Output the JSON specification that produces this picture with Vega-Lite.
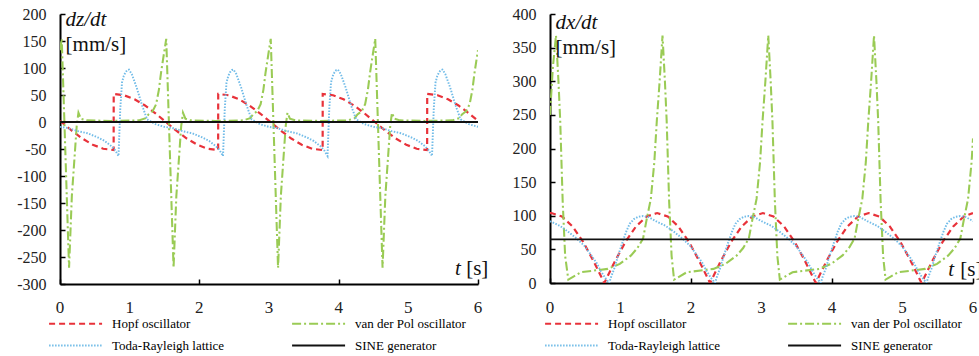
{
"$schema": "https://vega.github.io/schema/vega-lite/v6.json",
"background": "white",
"padding": {"left": 16, "top": 6, "right": 0, "bottom": 0},
"bounds": "flush",
"spacing": 72,
"config": {
  "font": "Times New Roman",
  "view": {"stroke": null},
  "axis": {"grid": false, "title": null, "domainColor": "#000", "domainWidth": 2, "tickColor": "#000", "tickWidth": 1.5, "tickSize": -5, "labelFont": "Times New Roman", "labelFontSize": 16, "labelColor": "#222", "labelOverlap": false, "labelExpr": "'' + datum.value"},
  "axisX": {"labelPadding": 17},
  "axisY": {"labelPadding": 19},
  "legend": {"orient": "none", "legendY": 303, "columns": 2, "direction": "horizontal", "symbolType": "M-1,0H11", "symbolSize": 78, "symbolStrokeWidth": 2, "labelFont": "Times New Roman", "labelFontSize": 13, "labelColor": "#000", "labelOffset": 52, "columnPadding": 62, "rowPadding": 8, "padding": 0, "title": null}
},
"datasets": {
"ticks": [{"v":0},{"v":1},{"v":2},{"v":3},{"v":4},{"v":5},{"v":6}],
"dz": [
{"s":"H","t":0,"y":2.2},{"s":"H","t":0.02,"y":0},{"s":"H","t":0.17,"y":-16.1},{"s":"H","t":0.32,"y":-30.6},{"s":"H","t":0.47,"y":-42.1},{"s":"H","t":0.62,"y":-49.5},{"s":"H","t":0.77,"y":-52},{"s":"H","t":0.771,"y":52},{"s":"H","t":0.92,"y":49.5},{"s":"H","t":1.07,"y":42.1},{"s":"H","t":1.22,"y":30.6},{"s":"H","t":1.37,"y":16.1},{"s":"H","t":1.52,"y":0},{"s":"H","t":1.67,"y":-16.1},{"s":"H","t":1.82,"y":-30.6},{"s":"H","t":1.97,"y":-42.1},{"s":"H","t":2.12,"y":-49.5},{"s":"H","t":2.27,"y":-52},{"s":"H","t":2.271,"y":52},{"s":"H","t":2.42,"y":49.5},{"s":"H","t":2.57,"y":42.1},{"s":"H","t":2.72,"y":30.6},{"s":"H","t":2.87,"y":16.1},{"s":"H","t":3.02,"y":0},{"s":"H","t":3.17,"y":-16.1},{"s":"H","t":3.32,"y":-30.6},{"s":"H","t":3.47,"y":-42.1},{"s":"H","t":3.62,"y":-49.5},{"s":"H","t":3.77,"y":-52},{"s":"H","t":3.771,"y":52},{"s":"H","t":3.92,"y":49.5},{"s":"H","t":4.07,"y":42.1},{"s":"H","t":4.22,"y":30.6},{"s":"H","t":4.37,"y":16.1},{"s":"H","t":4.52,"y":0},{"s":"H","t":4.67,"y":-16.1},{"s":"H","t":4.82,"y":-30.6},{"s":"H","t":4.97,"y":-42.1},{"s":"H","t":5.12,"y":-49.5},{"s":"H","t":5.27,"y":-52},{"s":"H","t":5.271,"y":52},{"s":"H","t":5.42,"y":49.5},{"s":"H","t":5.57,"y":42.1},{"s":"H","t":5.72,"y":30.6},{"s":"H","t":5.87,"y":16.1},{"s":"H","t":6,"y":2.2},
{"s":"V","t":0,"y":133},{"s":"V","t":0.025,"y":154},{"s":"V","t":0.06,"y":13},{"s":"V","t":0.095,"y":-129},
{"s":"V","t":0.13,"y":-270},{"s":"V","t":0.17,"y":-137},{"s":"V","t":0.21,"y":-63},{"s":"V","t":0.24,"y":-7},{"s":"V","t":0.265,"y":17},{"s":"V","t":0.3,"y":6},{"s":"V","t":0.38,"y":3},{"s":"V","t":0.73,"y":2},{"s":"V","t":1.13,"y":3},{"s":"V","t":1.23,"y":7},{"s":"V","t":1.27,"y":14},{"s":"V","t":1.33,"y":20},{"s":"V","t":1.38,"y":33},{"s":"V","t":1.42,"y":60},{"s":"V","t":1.45,"y":91},{"s":"V","t":1.49,"y":125},{"s":"V","t":1.525,"y":154},{"s":"V","t":1.56,"y":13},{"s":"V","t":1.595,"y":-129},
{"s":"V","t":1.63,"y":-270},{"s":"V","t":1.67,"y":-137},{"s":"V","t":1.71,"y":-63},{"s":"V","t":1.74,"y":-7},{"s":"V","t":1.765,"y":17},{"s":"V","t":1.8,"y":6},{"s":"V","t":1.88,"y":3},{"s":"V","t":2.23,"y":2},{"s":"V","t":2.63,"y":3},{"s":"V","t":2.73,"y":7},{"s":"V","t":2.77,"y":14},{"s":"V","t":2.83,"y":20},{"s":"V","t":2.88,"y":33},{"s":"V","t":2.92,"y":60},{"s":"V","t":2.95,"y":91},{"s":"V","t":2.99,"y":125},{"s":"V","t":3.025,"y":154},{"s":"V","t":3.06,"y":13},{"s":"V","t":3.095,"y":-129},
{"s":"V","t":3.13,"y":-270},{"s":"V","t":3.17,"y":-137},{"s":"V","t":3.21,"y":-63},{"s":"V","t":3.24,"y":-7},{"s":"V","t":3.265,"y":17},{"s":"V","t":3.3,"y":6},{"s":"V","t":3.38,"y":3},{"s":"V","t":3.73,"y":2},{"s":"V","t":4.13,"y":3},{"s":"V","t":4.23,"y":7},{"s":"V","t":4.27,"y":14},{"s":"V","t":4.33,"y":20},{"s":"V","t":4.38,"y":33},{"s":"V","t":4.42,"y":60},{"s":"V","t":4.45,"y":91},{"s":"V","t":4.49,"y":125},{"s":"V","t":4.525,"y":154},{"s":"V","t":4.56,"y":13},{"s":"V","t":4.595,"y":-129},
{"s":"V","t":4.63,"y":-270},{"s":"V","t":4.67,"y":-137},{"s":"V","t":4.71,"y":-63},{"s":"V","t":4.74,"y":-7},{"s":"V","t":4.765,"y":17},{"s":"V","t":4.8,"y":6},{"s":"V","t":4.88,"y":3},{"s":"V","t":5.23,"y":2},{"s":"V","t":5.63,"y":3},{"s":"V","t":5.73,"y":7},{"s":"V","t":5.77,"y":14},{"s":"V","t":5.83,"y":20},{"s":"V","t":5.88,"y":33},{"s":"V","t":5.92,"y":60},{"s":"V","t":5.95,"y":91},{"s":"V","t":5.99,"y":125},{"s":"V","t":6,"y":133},
{"s":"T","t":0,"y":-9},{"s":"T","t":0.11,"y":-11},{"s":"T","t":0.26,"y":-17},{"s":"T","t":0.4,"y":-21},{"s":"T","t":0.55,"y":-29},{"s":"T","t":0.64,"y":-35},{"s":"T","t":0.74,"y":-45},{"s":"T","t":0.79,"y":-52},
{"s":"T","t":0.84,"y":-63},{"s":"T","t":0.865,"y":24},{"s":"T","t":0.89,"y":73},{"s":"T","t":0.915,"y":85},{"s":"T","t":0.94,"y":92},{"s":"T","t":0.965,"y":96},{"s":"T","t":0.99,"y":97},{"s":"T","t":1.03,"y":89},{"s":"T","t":1.1,"y":64},{"s":"T","t":1.18,"y":30},{"s":"T","t":1.25,"y":5},{"s":"T","t":1.37,"y":-4},{"s":"T","t":1.5,"y":-9},{"s":"T","t":1.61,"y":-11},{"s":"T","t":1.76,"y":-17},{"s":"T","t":1.9,"y":-21},{"s":"T","t":2.05,"y":-29},{"s":"T","t":2.14,"y":-35},{"s":"T","t":2.24,"y":-45},{"s":"T","t":2.29,"y":-52},
{"s":"T","t":2.34,"y":-63},{"s":"T","t":2.365,"y":24},{"s":"T","t":2.39,"y":73},{"s":"T","t":2.415,"y":85},{"s":"T","t":2.44,"y":92},{"s":"T","t":2.465,"y":96},{"s":"T","t":2.49,"y":97},{"s":"T","t":2.53,"y":89},{"s":"T","t":2.6,"y":64},{"s":"T","t":2.68,"y":30},{"s":"T","t":2.75,"y":5},{"s":"T","t":2.87,"y":-4},{"s":"T","t":3,"y":-9},{"s":"T","t":3.11,"y":-11},{"s":"T","t":3.26,"y":-17},{"s":"T","t":3.4,"y":-21},{"s":"T","t":3.55,"y":-29},{"s":"T","t":3.64,"y":-35},{"s":"T","t":3.74,"y":-45},{"s":"T","t":3.79,"y":-52},
{"s":"T","t":3.84,"y":-63},{"s":"T","t":3.865,"y":24},{"s":"T","t":3.89,"y":73},{"s":"T","t":3.915,"y":85},{"s":"T","t":3.94,"y":92},{"s":"T","t":3.965,"y":96},{"s":"T","t":3.99,"y":97},{"s":"T","t":4.03,"y":89},{"s":"T","t":4.1,"y":64},{"s":"T","t":4.18,"y":30},{"s":"T","t":4.25,"y":5},{"s":"T","t":4.37,"y":-4},{"s":"T","t":4.5,"y":-9},{"s":"T","t":4.61,"y":-11},{"s":"T","t":4.76,"y":-17},{"s":"T","t":4.9,"y":-21},{"s":"T","t":5.05,"y":-29},{"s":"T","t":5.14,"y":-35},{"s":"T","t":5.24,"y":-45},{"s":"T","t":5.29,"y":-52},
{"s":"T","t":5.34,"y":-63},{"s":"T","t":5.365,"y":24},{"s":"T","t":5.39,"y":73},{"s":"T","t":5.415,"y":85},{"s":"T","t":5.44,"y":92},{"s":"T","t":5.465,"y":96},{"s":"T","t":5.49,"y":97},{"s":"T","t":5.53,"y":89},{"s":"T","t":5.6,"y":64},{"s":"T","t":5.68,"y":30},{"s":"T","t":5.75,"y":5},{"s":"T","t":5.87,"y":-4},{"s":"T","t":6,"y":-9},
{"s":"S","t":0,"y":0},{"s":"S","t":6,"y":0}
],
"dx": [
{"s":"H","t":0,"y":103.9},{"s":"H","t":0.02,"y":104},{"s":"H","t":0.17,"y":98.9},{"s":"H","t":0.32,"y":84.1},{"s":"H","t":0.47,"y":61.2},{"s":"H","t":0.62,"y":32.1},{"s":"H","t":0.77,"y":0},{"s":"H","t":0.92,"y":32.1},{"s":"H","t":1.07,"y":61.2},{"s":"H","t":1.22,"y":84.1},{"s":"H","t":1.37,"y":98.9},{"s":"H","t":1.52,"y":104},{"s":"H","t":1.67,"y":98.9},{"s":"H","t":1.82,"y":84.1},{"s":"H","t":1.97,"y":61.2},{"s":"H","t":2.12,"y":32.1},{"s":"H","t":2.27,"y":0},{"s":"H","t":2.42,"y":32.1},{"s":"H","t":2.57,"y":61.2},{"s":"H","t":2.72,"y":84.1},{"s":"H","t":2.87,"y":98.9},{"s":"H","t":3.02,"y":104},{"s":"H","t":3.17,"y":98.9},{"s":"H","t":3.32,"y":84.1},{"s":"H","t":3.47,"y":61.2},{"s":"H","t":3.62,"y":32.1},{"s":"H","t":3.77,"y":0},{"s":"H","t":3.92,"y":32.1},{"s":"H","t":4.07,"y":61.2},{"s":"H","t":4.22,"y":84.1},{"s":"H","t":4.37,"y":98.9},{"s":"H","t":4.52,"y":104},{"s":"H","t":4.67,"y":98.9},{"s":"H","t":4.82,"y":84.1},{"s":"H","t":4.97,"y":61.2},{"s":"H","t":5.12,"y":32.1},{"s":"H","t":5.27,"y":0},{"s":"H","t":5.42,"y":32.1},{"s":"H","t":5.57,"y":61.2},{"s":"H","t":5.72,"y":84.1},{"s":"H","t":5.87,"y":98.9},{"s":"H","t":6,"y":103.9},
{"s":"V","t":0,"y":250},{"s":"V","t":0.04,"y":320},{"s":"V","t":0.085,"y":368},{"s":"V","t":0.12,"y":300},{"s":"V","t":0.145,"y":241},{"s":"V","t":0.18,"y":121},{"s":"V","t":0.215,"y":40},
{"s":"V","t":0.26,"y":5},{"s":"V","t":0.44,"y":16},{"s":"V","t":0.82,"y":21},{"s":"V","t":0.99,"y":28.5},{"s":"V","t":1.15,"y":41},{"s":"V","t":1.24,"y":52},{"s":"V","t":1.32,"y":66},{"s":"V","t":1.37,"y":94},{"s":"V","t":1.43,"y":125},{"s":"V","t":1.48,"y":180},{"s":"V","t":1.515,"y":241},{"s":"V","t":1.555,"y":300},{"s":"V","t":1.596,"y":368},{"s":"V","t":1.63,"y":300},{"s":"V","t":1.655,"y":241},{"s":"V","t":1.69,"y":121},{"s":"V","t":1.725,"y":40},
{"s":"V","t":1.76,"y":5},{"s":"V","t":1.94,"y":16},{"s":"V","t":2.32,"y":21},{"s":"V","t":2.49,"y":28.5},{"s":"V","t":2.65,"y":41},{"s":"V","t":2.74,"y":52},{"s":"V","t":2.82,"y":66},{"s":"V","t":2.87,"y":94},{"s":"V","t":2.93,"y":125},{"s":"V","t":2.98,"y":180},{"s":"V","t":3.015,"y":241},{"s":"V","t":3.055,"y":300},{"s":"V","t":3.096,"y":368},{"s":"V","t":3.13,"y":300},{"s":"V","t":3.155,"y":241},{"s":"V","t":3.19,"y":121},{"s":"V","t":3.225,"y":40},
{"s":"V","t":3.26,"y":5},{"s":"V","t":3.44,"y":16},{"s":"V","t":3.82,"y":21},{"s":"V","t":3.99,"y":28.5},{"s":"V","t":4.15,"y":41},{"s":"V","t":4.24,"y":52},{"s":"V","t":4.32,"y":66},{"s":"V","t":4.37,"y":94},{"s":"V","t":4.43,"y":125},{"s":"V","t":4.48,"y":180},{"s":"V","t":4.515,"y":241},{"s":"V","t":4.555,"y":300},{"s":"V","t":4.596,"y":368},{"s":"V","t":4.63,"y":300},{"s":"V","t":4.655,"y":241},{"s":"V","t":4.69,"y":121},{"s":"V","t":4.725,"y":40},
{"s":"V","t":4.76,"y":5},{"s":"V","t":4.94,"y":16},{"s":"V","t":5.32,"y":21},{"s":"V","t":5.49,"y":28.5},{"s":"V","t":5.65,"y":41},{"s":"V","t":5.74,"y":52},{"s":"V","t":5.82,"y":66},{"s":"V","t":5.87,"y":94},{"s":"V","t":5.93,"y":125},{"s":"V","t":5.98,"y":180},{"s":"V","t":6,"y":215},
{"s":"T","t":0,"y":92},{"s":"T","t":0.14,"y":85},{"s":"T","t":0.26,"y":76},{"s":"T","t":0.38,"y":66},{"s":"T","t":0.49,"y":55},{"s":"T","t":0.58,"y":42},{"s":"T","t":0.66,"y":30},{"s":"T","t":0.72,"y":18},{"s":"T","t":0.78,"y":8},
{"s":"T","t":0.84,"y":0},{"s":"T","t":0.87,"y":10},{"s":"T","t":0.91,"y":21},{"s":"T","t":0.97,"y":42},{"s":"T","t":1.03,"y":61},{"s":"T","t":1.08,"y":76},{"s":"T","t":1.13,"y":88},{"s":"T","t":1.19,"y":95},{"s":"T","t":1.25,"y":98.5},{"s":"T","t":1.32,"y":99.5},{"s":"T","t":1.4,"y":98},{"s":"T","t":1.5,"y":92},{"s":"T","t":1.64,"y":85},{"s":"T","t":1.76,"y":76},{"s":"T","t":1.88,"y":66},{"s":"T","t":1.99,"y":55},{"s":"T","t":2.08,"y":42},{"s":"T","t":2.16,"y":30},{"s":"T","t":2.22,"y":18},{"s":"T","t":2.28,"y":8},
{"s":"T","t":2.34,"y":0},{"s":"T","t":2.37,"y":10},{"s":"T","t":2.41,"y":21},{"s":"T","t":2.47,"y":42},{"s":"T","t":2.53,"y":61},{"s":"T","t":2.58,"y":76},{"s":"T","t":2.63,"y":88},{"s":"T","t":2.69,"y":95},{"s":"T","t":2.75,"y":98.5},{"s":"T","t":2.82,"y":99.5},{"s":"T","t":2.9,"y":98},{"s":"T","t":3,"y":92},{"s":"T","t":3.14,"y":85},{"s":"T","t":3.26,"y":76},{"s":"T","t":3.38,"y":66},{"s":"T","t":3.49,"y":55},{"s":"T","t":3.58,"y":42},{"s":"T","t":3.66,"y":30},{"s":"T","t":3.72,"y":18},{"s":"T","t":3.78,"y":8},
{"s":"T","t":3.84,"y":0},{"s":"T","t":3.87,"y":10},{"s":"T","t":3.91,"y":21},{"s":"T","t":3.97,"y":42},{"s":"T","t":4.03,"y":61},{"s":"T","t":4.08,"y":76},{"s":"T","t":4.13,"y":88},{"s":"T","t":4.19,"y":95},{"s":"T","t":4.25,"y":98.5},{"s":"T","t":4.32,"y":99.5},{"s":"T","t":4.4,"y":98},{"s":"T","t":4.5,"y":92},{"s":"T","t":4.64,"y":85},{"s":"T","t":4.76,"y":76},{"s":"T","t":4.88,"y":66},{"s":"T","t":4.99,"y":55},{"s":"T","t":5.08,"y":42},{"s":"T","t":5.16,"y":30},{"s":"T","t":5.22,"y":18},{"s":"T","t":5.28,"y":8},
{"s":"T","t":5.34,"y":0},{"s":"T","t":5.37,"y":10},{"s":"T","t":5.41,"y":21},{"s":"T","t":5.47,"y":42},{"s":"T","t":5.53,"y":61},{"s":"T","t":5.58,"y":76},{"s":"T","t":5.63,"y":88},{"s":"T","t":5.69,"y":95},{"s":"T","t":5.75,"y":98.5},{"s":"T","t":5.82,"y":99.5},{"s":"T","t":5.9,"y":98},{"s":"T","t":6,"y":92},
{"s":"S","t":0,"y":65},{"s":"S","t":6,"y":65}
]
},
"resolve": {"scale": {"color": "independent", "strokeDash": "independent", "strokeWidth": "independent"}, "legend": {"color": "independent", "strokeDash": "independent"}},
"hconcat": [
{
  "width": 418, "height": 270,
  "layer": [
    {
      "data": {"name": "dz"},
      "mark": {"type": "line", "clip": true},
      "encoding": {
        "x": {"field": "t", "type": "quantitative", "scale": {"domain": [0, 6], "nice": false}, "axis": {"values": [0, 1, 2, 3, 4, 5, 6], "tickCount": 6, "labels": false}},
        "y": {"field": "y", "type": "quantitative", "scale": {"domain": [-300, 200], "nice": false}, "axis": {"values": [-300, -250, -200, -150, -100, -50, 0, 50, 100, 150, 200], "tickCount": 11, "labelOverlap": false}},
        "color": {"field": "s", "type": "nominal", "scale": {"domain": ["H", "V", "T", "S"], "range": ["#e8323a", "#9acb55", "#72bce8", "#111111"]}, "legend": {"legendX": -13, "labelExpr": "datum.label == 'H' ? 'Hopf oscillator' : datum.label == 'V' ? 'van der Pol oscillator' : datum.label == 'T' ? 'Toda-Rayleigh lattice' : 'SINE generator'"}},
        "strokeDash": {"field": "s", "type": "nominal", "scale": {"domain": ["H", "V", "T", "S"], "range": [[6, 4], [9, 3, 2, 3], [1.5, 1.5], [1, 0]]}, "legend": {"legendX": -13, "labelExpr": "datum.label == 'H' ? 'Hopf oscillator' : datum.label == 'V' ? 'van der Pol oscillator' : datum.label == 'T' ? 'Toda-Rayleigh lattice' : 'SINE generator'"}},
        "strokeWidth": {"field": "s", "type": "nominal", "scale": {"domain": ["H", "V", "T", "S"], "range": [2.2, 1.8, 1.6, 2]}, "legend": null}
      }
    },
    {"data": {"name": "ticks"}, "mark": {"type": "text", "font": "Times New Roman", "fontSize": 17, "dy": 24, "baseline": "middle", "align": "center", "color": "#222"}, "encoding": {"x": {"field": "v", "type": "quantitative", "axis": {"values": [0, 1, 2, 3, 4, 5, 6], "tickCount": 6, "labels": false}}, "y": {"datum": -300, "axis": {"values": [-300, -250, -200, -150, -100, -50, 0, 50, 100, 150, 200], "tickCount": 11, "labelOverlap": false}}, "text": {"field": "v", "type": "quantitative"}}},
    {"data": {"values": [{}]}, "mark": {"type": "text", "text": "dz/dt", "font": "Times New Roman", "fontStyle": "italic", "fontSize": 21, "align": "left", "baseline": "middle", "color": "#111"}, "encoding": {"x": {"datum": 0.08, "axis": {"values": [0, 1, 2, 3, 4, 5, 6], "tickCount": 6, "labels": false}}, "y": {"datum": 188, "axis": {"values": [-300, -250, -200, -150, -100, -50, 0, 50, 100, 150, 200], "tickCount": 11, "labelOverlap": false}}}},
    {"data": {"values": [{}]}, "mark": {"type": "text", "text": "[mm/s]", "font": "Times New Roman", "fontSize": 21, "align": "left", "baseline": "middle", "color": "#111"}, "encoding": {"x": {"datum": 0.08, "axis": {"values": [0, 1, 2, 3, 4, 5, 6], "tickCount": 6, "labels": false}}, "y": {"datum": 142, "axis": {"values": [-300, -250, -200, -150, -100, -50, 0, 50, 100, 150, 200], "tickCount": 11, "labelOverlap": false}}}},
    {"data": {"values": [{}]}, "mark": {"type": "text", "text": "t", "font": "Times New Roman", "fontStyle": "italic", "fontSize": 21, "align": "left", "baseline": "middle", "color": "#111"}, "encoding": {"x": {"datum": 5.67, "axis": {"values": [0, 1, 2, 3, 4, 5, 6], "tickCount": 6, "labels": false}}, "y": {"datum": -273, "axis": {"values": [-300, -250, -200, -150, -100, -50, 0, 50, 100, 150, 200], "tickCount": 11, "labelOverlap": false}}}},
    {"data": {"values": [{}]}, "mark": {"type": "text", "text": "[s]", "font": "Times New Roman", "fontSize": 21, "align": "left", "baseline": "middle", "color": "#111"}, "encoding": {"x": {"datum": 5.83, "axis": {"values": [0, 1, 2, 3, 4, 5, 6], "tickCount": 6, "labels": false}}, "y": {"datum": -273, "axis": {"values": [-300, -250, -200, -150, -100, -50, 0, 50, 100, 150, 200], "tickCount": 11, "labelOverlap": false}}}}
  ]
},
{
  "width": 423, "height": 269,
  "layer": [
    {
      "data": {"name": "dx"},
      "mark": {"type": "line", "clip": true},
      "encoding": {
        "x": {"field": "t", "type": "quantitative", "scale": {"domain": [0, 6], "nice": false}, "axis": {"values": [0, 1, 2, 3, 4, 5, 6], "tickCount": 6, "labels": false}},
        "y": {"field": "y", "type": "quantitative", "scale": {"domain": [0, 400], "nice": false}, "axis": {"values": [0, 50, 100, 150, 200, 250, 300, 350, 400], "tickCount": 9, "labelOverlap": false}},
        "color": {"field": "s", "type": "nominal", "scale": {"domain": ["H", "V", "T", "S"], "range": ["#e8323a", "#9acb55", "#72bce8", "#111111"]}, "legend": {"legendX": -7, "labelExpr": "datum.label == 'H' ? 'Hopf oscillator' : datum.label == 'V' ? 'van der Pol oscillator' : datum.label == 'T' ? 'Toda-Rayleigh lattice' : 'SINE generator'"}},
        "strokeDash": {"field": "s", "type": "nominal", "scale": {"domain": ["H", "V", "T", "S"], "range": [[6, 4], [9, 3, 2, 3], [1.5, 1.5], [1, 0]]}, "legend": {"legendX": -7, "labelExpr": "datum.label == 'H' ? 'Hopf oscillator' : datum.label == 'V' ? 'van der Pol oscillator' : datum.label == 'T' ? 'Toda-Rayleigh lattice' : 'SINE generator'"}},
        "strokeWidth": {"field": "s", "type": "nominal", "scale": {"domain": ["H", "V", "T", "S"], "range": [2.2, 1.8, 1.6, 2]}, "legend": null}
      }
    },
    {"data": {"name": "ticks"}, "mark": {"type": "text", "font": "Times New Roman", "fontSize": 17, "dy": 25, "baseline": "middle", "align": "center", "color": "#222"}, "encoding": {"x": {"field": "v", "type": "quantitative", "axis": {"values": [0, 1, 2, 3, 4, 5, 6], "tickCount": 6, "labels": false}}, "y": {"datum": 0, "axis": {"values": [0, 50, 100, 150, 200, 250, 300, 350, 400], "tickCount": 9, "labelOverlap": false}}, "text": {"field": "v", "type": "quantitative"}}},
    {"data": {"values": [{}]}, "mark": {"type": "text", "text": "dx/dt", "font": "Times New Roman", "fontStyle": "italic", "fontSize": 21, "align": "left", "baseline": "middle", "color": "#111"}, "encoding": {"x": {"datum": 0.077, "axis": {"values": [0, 1, 2, 3, 4, 5, 6], "tickCount": 6, "labels": false}}, "y": {"datum": 386, "axis": {"values": [0, 50, 100, 150, 200, 250, 300, 350, 400], "tickCount": 9, "labelOverlap": false}}}},
    {"data": {"values": [{}]}, "mark": {"type": "text", "text": "[mm/s]", "font": "Times New Roman", "fontSize": 21, "align": "left", "baseline": "middle", "color": "#111"}, "encoding": {"x": {"datum": 0.077, "axis": {"values": [0, 1, 2, 3, 4, 5, 6], "tickCount": 6, "labels": false}}, "y": {"datum": 350, "axis": {"values": [0, 50, 100, 150, 200, 250, 300, 350, 400], "tickCount": 9, "labelOverlap": false}}}},
    {"data": {"values": [{}]}, "mark": {"type": "text", "text": "t", "font": "Times New Roman", "fontStyle": "italic", "fontSize": 21, "align": "left", "baseline": "middle", "color": "#111"}, "encoding": {"x": {"datum": 5.65, "axis": {"values": [0, 1, 2, 3, 4, 5, 6], "tickCount": 6, "labels": false}}, "y": {"datum": 19, "axis": {"values": [0, 50, 100, 150, 200, 250, 300, 350, 400], "tickCount": 9, "labelOverlap": false}}}},
    {"data": {"values": [{}]}, "mark": {"type": "text", "text": "[s]", "font": "Times New Roman", "fontSize": 21, "align": "left", "baseline": "middle", "color": "#111"}, "encoding": {"x": {"datum": 5.82, "axis": {"values": [0, 1, 2, 3, 4, 5, 6], "tickCount": 6, "labels": false}}, "y": {"datum": 19, "axis": {"values": [0, 50, 100, 150, 200, 250, 300, 350, 400], "tickCount": 9, "labelOverlap": false}}}}
  ]
}
]
}
